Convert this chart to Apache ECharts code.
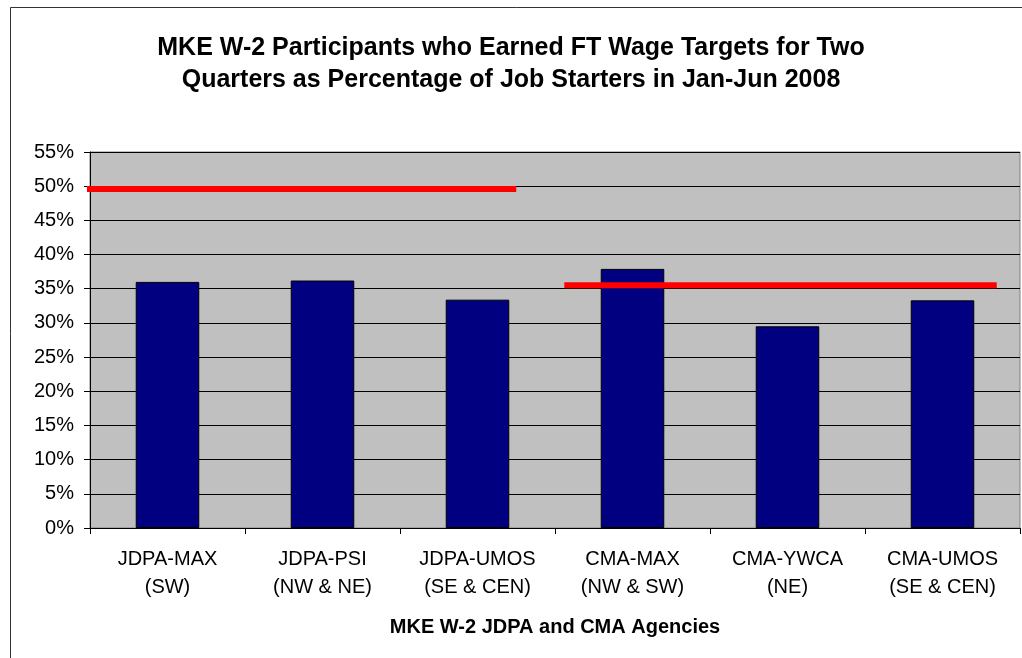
<!DOCTYPE html>
<html>
<head>
<meta charset="utf-8">
<script src="https://cdn.jsdelivr.net/npm/echarts@6/dist/echarts.min.js"></script>
<style>
  html, body { margin: 0; padding: 0; background: #fff; }
  #chart { width: 1022px; height: 658px; }
</style>
</head>
<body>
<div id="chart"></div>
<script>
// agencies and their share of job starters (percent)
var agencies = ['JDPA-MAX\n(SW)', 'JDPA-PSI\n(NW & NE)', 'JDPA-UMOS\n(SE & CEN)',
  'CMA-MAX\n(NW & SW)', 'CMA-YWCA\n(NE)', 'CMA-UMOS\n(SE & CEN)']
var earned = [36.0, 36.2, 33.4, 37.9, 29.5, 33.3]
var yTicks = [0, 5, 10, 15, 20, 25, 30, 35, 40, 45, 50, 55]

// target lines: [category position, percent]
var jdpaTarget = [[-0.04, 49.6], [2.75, 49.6]]
var cmaTarget = [[3.06, 35.5], [5.85, 35.5]]

var chart = echarts.init(document.getElementById('chart'))

var option = {
  backgroundColor: '#fff',
  animation: false,
  textStyle: { fontFamily: 'Liberation Sans, Arial, sans-serif', color: '#000' },
  title: {
    text: 'MKE W-2 Participants who Earned FT Wage Targets for Two\nQuarters as Percentage of Job Starters in Jan-Jun 2008',
    left: 'center',
    top: 27,
    textStyle: { fontSize: 25, fontWeight: 'bold', color: '#000', lineHeight: 32 }
  },
  graphic: [{
    type: 'rect',
    shape: { x: 10.5, y: 7.5, width: 1100, height: 1000 },
    style: { fill: null, stroke: '#333', lineWidth: 1 },
    silent: true
  }],
  grid: {
    left: 90, right: 2, top: 152, bottom: 130,
    show: true, backgroundColor: '#c0c0c0', borderColor: '#808080', borderWidth: 1
  },
  xAxis: [{
    type: 'category',
    data: agencies,
    name: 'MKE W-2 JDPA and CMA Agencies',
    nameLocation: 'middle',
    nameGap: 89,
    nameTextStyle: { fontSize: 20, fontWeight: 'bold', color: '#000' },
    axisLine: { lineStyle: { color: '#000', width: 1 } },
    axisTick: { show: true, length: 6, lineStyle: { color: '#000' } },
    axisLabel: { fontSize: 20, color: '#000', margin: 17, lineHeight: 28 }
  }, {
    type: 'value',
    min: 0, max: 6,
    show: false
  }],
  yAxis: {
    type: 'value',
    min: 0, max: 55, interval: 5,
    axisLine: { show: true, lineStyle: { color: '#000' } },
    axisTick: { show: true, length: 6, lineStyle: { color: '#000' } },
    axisLabel: {
      fontSize: 20, color: '#000', margin: 16,
      formatter: function (v) { return yTicks.indexOf(v) >= 0 ? v + '%' : '' }
    },
    splitLine: { lineStyle: { color: '#000', width: 1 } }
  },
  series: [{
    type: 'bar',
    data: earned,
    barWidth: '41%',
    itemStyle: { color: '#000080', borderColor: '#000', borderWidth: 1 }
  }, {
    type: 'line',
    xAxisIndex: 1,
    data: jdpaTarget,
    symbol: 'none',
    clip: false,
    lineStyle: { color: '#ff0000', width: 6 },
    z: 5
  }, {
    type: 'line',
    xAxisIndex: 1,
    data: cmaTarget,
    symbol: 'none',
    clip: false,
    lineStyle: { color: '#ff0000', width: 6 },
    z: 5
  }]
}

chart.setOption(option)
</script>
</body>
</html>
